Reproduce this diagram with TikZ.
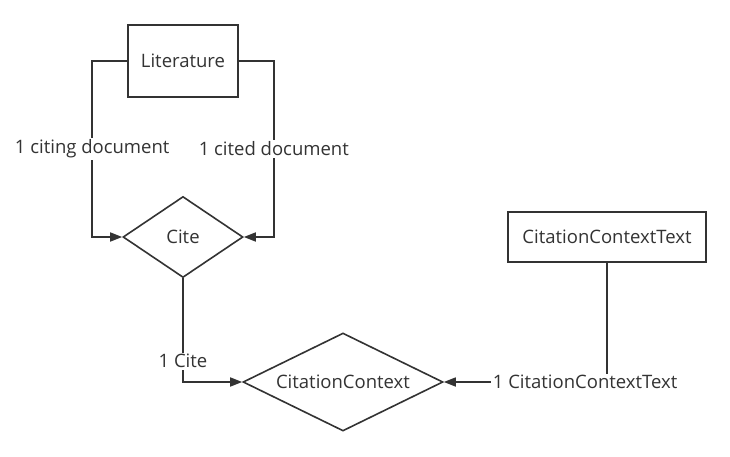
\documentclass[tikz,border=0pt]{standalone}
\usepackage{fontspec}
\setmainfont{Open Sans}
\usetikzlibrary{arrows.meta,shapes.geometric}
\definecolor{ink}{HTML}{333333}

\begin{document}
\begin{tikzpicture}[x=1pt, y=-1pt, font=\fontsize{18.5}{21}\selectfont, text=ink]

\useasboundingbox[fill=white] (0,0) rectangle (730,456);

\begin{scope}[every node/.style={draw=ink, line width=1.6pt, inner sep=0pt}]
    \node[rectangle, minimum width=110pt, minimum height=72pt] (lit) at (183,61) {Literature};
    \node[diamond, aspect=1.5, minimum width=120pt, minimum height=81pt] (cite) at (183,237) {Cite};
    \node[diamond, aspect=2, minimum width=200pt, minimum height=98pt] (cc) at (343,382) {CitationContext};
    \node[rectangle, minimum width=198pt, minimum height=50pt] (cct) at (607,237) {CitationContextText};
\end{scope}

\begin{scope}[draw=ink, line width=1.6pt,
    every node/.style={fill=white, inner sep=1.5pt}]
    \draw[-{Triangle[length=12pt,width=9pt]}] (lit.west) -- ++(-35,0)
        -- node[pos=0.5] (l1) {1 citing document} ++(0,176) -- (cite.west);
    \draw[-{Triangle[length=12pt,width=9pt]}] (lit.east) -- ++(35,0)
        -- node[pos=0.5] (l2) {1 cited document} ++(0,176) -- (cite.east);
    \draw[-{Triangle[length=12pt,width=9pt]}] (cite.south) |- node[pos=0.4] (l3) {1 Cite} (cc.west);
    \draw[-{Triangle[length=12pt,width=9pt]}] (cct.south) |- node[pos=0.567] (l4) {1 CitationContextText} (cc.east);
\end{scope}

\end{tikzpicture}
\end{document}
